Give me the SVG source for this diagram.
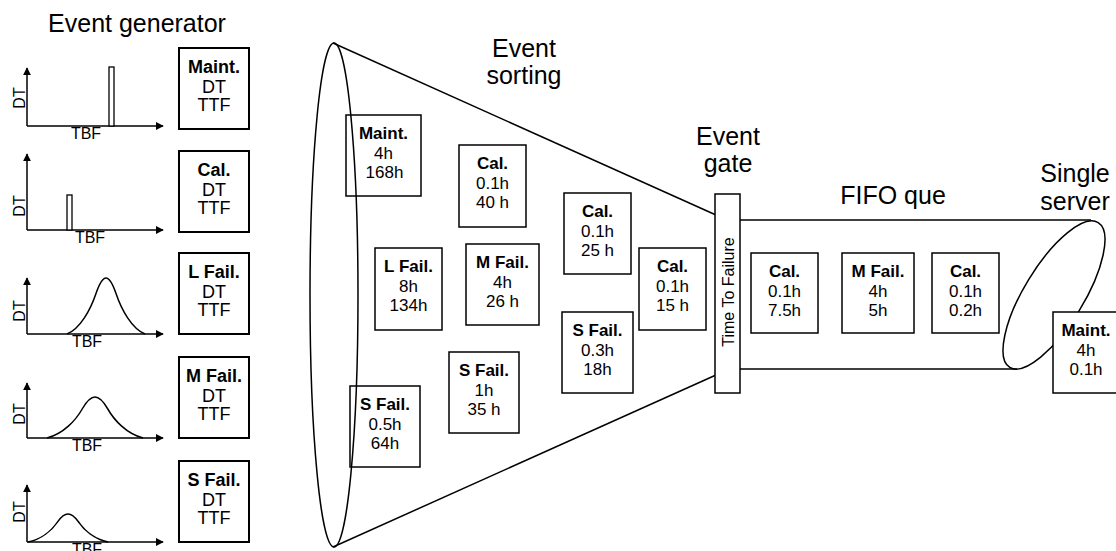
<svg xmlns="http://www.w3.org/2000/svg" width="1116" height="551" viewBox="0 0 1116 551">
<style>
text{font-family:"Liberation Sans",Arial,sans-serif;fill:#000;text-anchor:middle}
.title{font-size:25px}
.lb{font-size:18px}
.mb{font-size:17px}
.b{font-weight:bold}
.ax{font-size:16px}
.box{fill:#fff;stroke:#000;stroke-width:2}
.fbox{fill:none;stroke:#000;stroke-width:1.5}
.ln{fill:none;stroke:#000;stroke-width:1.5}
</style>
<defs>
<marker id="ar" viewBox="0 0 10 10" refX="9" refY="5" markerWidth="8" markerHeight="8" markerUnits="userSpaceOnUse" orient="auto">
<path d="M0,0 L10,5 L0,10 z" fill="#000"/>
</marker>
</defs>

<text class="title" x="137" y="32">Event generator</text>
<text class="title" x="524" y="57">Event</text>
<text class="title" x="524" y="84">sorting</text>
<text class="title" x="728" y="145">Event</text>
<text class="title" x="728" y="172">gate</text>
<text class="title" x="893" y="204">FIFO que</text>
<text class="title" x="1075" y="182">Single</text>
<text class="title" x="1075" y="210">server</text>

<g id="charts">
<g id="chart1">
<path class="ln" d="M27,126 L27,68" marker-end="url(#ar)"/>
<path class="ln" d="M27,126 L163,126" marker-end="url(#ar)"/>
<rect x="109" y="67" width="5" height="59" fill="#fff" stroke="#000" stroke-width="1.3"/>
<text class="ax" transform="translate(25,98) rotate(-90)">DT</text>
<text class="ax" x="86" y="139">TBF</text>
</g>
<g id="chart2">
<path class="ln" d="M27,230 L27,154" marker-end="url(#ar)"/>
<path class="ln" d="M27,230 L163,230" marker-end="url(#ar)"/>
<rect x="67" y="195" width="5" height="35" fill="#fff" stroke="#000" stroke-width="1.3"/>
<text class="ax" transform="translate(25,206) rotate(-90)">DT</text>
<text class="ax" x="90" y="243">TBF</text>
</g>
<g id="chart3">
<path class="ln" d="M27,334 L27,278" marker-end="url(#ar)"/>
<path class="ln" d="M27,334 L163,334" marker-end="url(#ar)"/>
<path class="ln" d="M67,334 C80.3,328.4 90.4,309.9 95.9,293.7 C99.8,282.5 102.9,278 106,278 C109.1,278 112.2,282.5 116.1,293.7 C121.6,309.9 131.7,328.4 145,334"/>
<text class="ax" transform="translate(25,311) rotate(-90)">DT</text>
<text class="ax" x="87" y="347">TBF</text>
</g>
<g id="chart4">
<path class="ln" d="M27,438 L27,383" marker-end="url(#ar)"/>
<path class="ln" d="M27,438 L163,438" marker-end="url(#ar)"/>
<path class="ln" d="M47,438 C63.3,433.9 75.8,420.4 82.5,408.5 C87.3,400.3 91.2,397 95,397 C98.8,397 102.7,400.3 107.5,408.5 C114.2,420.4 126.7,433.9 143,438"/>
<text class="ax" transform="translate(25,414) rotate(-90)">DT</text>
<text class="ax" x="87" y="451">TBF</text>
</g>
<g id="chart5">
<path class="ln" d="M27,542 L27,485" marker-end="url(#ar)"/>
<path class="ln" d="M27,542 L163,542" marker-end="url(#ar)"/>
<path class="ln" d="M28,542 C41.6,539.2 52,530 57.6,521.8 C61.6,516.2 64.8,514 68,514 C71.2,514 74.4,516.2 78.4,521.8 C84,530 94.4,539.2 108,542"/>
<text class="ax" transform="translate(25,512) rotate(-90)">DT</text>
<text class="ax" x="87" y="555">TBF</text>
</g>
</g>

<g id="gen-maint"><rect class="box" x="179" y="48" width="70" height="81"/>
<text class="lb b" x="214" y="73">Maint.</text><text class="lb" x="214" y="92.5">DT</text><text class="lb" x="214" y="111">TTF</text></g>
<g id="gen-cal"><rect class="box" x="179" y="151" width="70" height="81"/>
<text class="lb b" x="214" y="176">Cal.</text><text class="lb" x="214" y="195.5">DT</text><text class="lb" x="214" y="214">TTF</text></g>
<g id="gen-lfail"><rect class="box" x="179" y="253" width="70" height="81"/>
<text class="lb b" x="214" y="278">L Fail.</text><text class="lb" x="214" y="297.5">DT</text><text class="lb" x="214" y="316">TTF</text></g>
<g id="gen-mfail"><rect class="box" x="179" y="357" width="70" height="81"/>
<text class="lb b" x="214" y="382">M Fail.</text><text class="lb" x="214" y="401.5">DT</text><text class="lb" x="214" y="420">TTF</text></g>
<g id="gen-sfail"><rect class="box" x="179" y="461" width="70" height="81"/>
<text class="lb b" x="214" y="486">S Fail.</text><text class="lb" x="214" y="505.5">DT</text><text class="lb" x="214" y="524">TTF</text></g>

<g id="connectors">
<line class="ln" x1="333" y1="43" x2="716" y2="215"/>
<line class="ln" x1="333" y1="547" x2="716" y2="375"/>
<line class="ln" x1="740" y1="220" x2="1091" y2="220"/>
<line class="ln" x1="740" y1="369" x2="1017" y2="369"/>
</g>

<g id="funnel-mouth"><ellipse class="ln" cx="334" cy="295" rx="24" ry="252"/></g>
<g id="server-ring"><ellipse class="ln" cx="0" cy="0" rx="84.8" ry="29.7" transform="translate(1054,295) rotate(-58.6)"/></g>

<g id="s-maint"><rect class="fbox" x="346" y="115" width="75" height="81"/>
<text class="mb b" x="383.5" y="139">Maint.</text><text class="mb" x="383.5" y="159">4h</text><text class="mb" x="384.5" y="178">168h</text></g>
<g id="s-cal40"><rect class="fbox" x="459" y="145" width="67" height="82"/>
<text class="mb b" x="492.5" y="169">Cal.</text><text class="mb" x="492.5" y="189">0.1h</text><text class="mb" x="492.5" y="208">40 h</text></g>
<g id="s-lfail"><rect class="fbox" x="375" y="248" width="67" height="82"/>
<text class="mb b" x="408.5" y="272">L Fail.</text><text class="mb" x="408.5" y="292">8h</text><text class="mb" x="408.5" y="311">134h</text></g>
<g id="s-mfail"><rect class="fbox" x="466" y="244" width="73" height="81"/>
<text class="mb b" x="502.5" y="268">M Fail.</text><text class="mb" x="502.5" y="288">4h</text><text class="mb" x="502.5" y="307">26 h</text></g>
<g id="s-sfail35"><rect class="fbox" x="449" y="352" width="70" height="81"/>
<text class="mb b" x="484" y="376">S Fail.</text><text class="mb" x="484" y="396">1h</text><text class="mb" x="484" y="415">35 h</text></g>
<g id="s-sfail64"><rect class="fbox" x="350" y="386" width="70" height="81"/>
<text class="mb b" x="385" y="410">S Fail.</text><text class="mb" x="385" y="430">0.5h</text><text class="mb" x="385" y="449">64h</text></g>
<g id="s-cal25"><rect class="fbox" x="564" y="193" width="67" height="81"/>
<text class="mb b" x="597.5" y="217">Cal.</text><text class="mb" x="597.5" y="237">0.1h</text><text class="mb" x="597.5" y="256">25 h</text></g>
<g id="s-sfail18"><rect class="fbox" x="562" y="312" width="71" height="81"/>
<text class="mb b" x="597.5" y="336">S Fail.</text><text class="mb" x="597.5" y="356">0.3h</text><text class="mb" x="597.5" y="375">18h</text></g>
<g id="s-cal15"><rect class="fbox" x="639" y="248" width="67" height="82"/>
<text class="mb b" x="672.5" y="272">Cal.</text><text class="mb" x="672.5" y="292">0.1h</text><text class="mb" x="672.5" y="311">15 h</text></g>

<g id="gate"><rect x="715" y="194" width="25" height="199" fill="#fff" stroke="#000" stroke-width="1.5"/>
<text class="mb" style="font-size:16px" transform="translate(734,292) rotate(-90)">Time To Failure</text></g>

<g id="q-cal75"><rect class="box" style="stroke-width:1.5" x="751" y="253" width="67" height="80"/>
<text class="mb b" x="784.5" y="277">Cal.</text><text class="mb" x="784.5" y="297">0.1h</text><text class="mb" x="784.5" y="316">7.5h</text></g>
<g id="q-mfail"><rect class="box" style="stroke-width:1.5" x="842" y="253" width="72" height="80"/>
<text class="mb b" x="878" y="277">M Fail.</text><text class="mb" x="878" y="297">4h</text><text class="mb" x="878" y="316">5h</text></g>
<g id="q-cal02"><rect class="box" style="stroke-width:1.5" x="932" y="253" width="67" height="80"/>
<text class="mb b" x="965.5" y="277">Cal.</text><text class="mb" x="965.5" y="297">0.1h</text><text class="mb" x="965.5" y="316">0.2h</text></g>

<g id="server-maint"><rect class="box" style="stroke-width:1.5" x="1053" y="312" width="68" height="81"/>
<text class="mb b" x="1086" y="336">Maint.</text><text class="mb" x="1086" y="356">4h</text><text class="mb" x="1086" y="375">0.1h</text></g>
</svg>
